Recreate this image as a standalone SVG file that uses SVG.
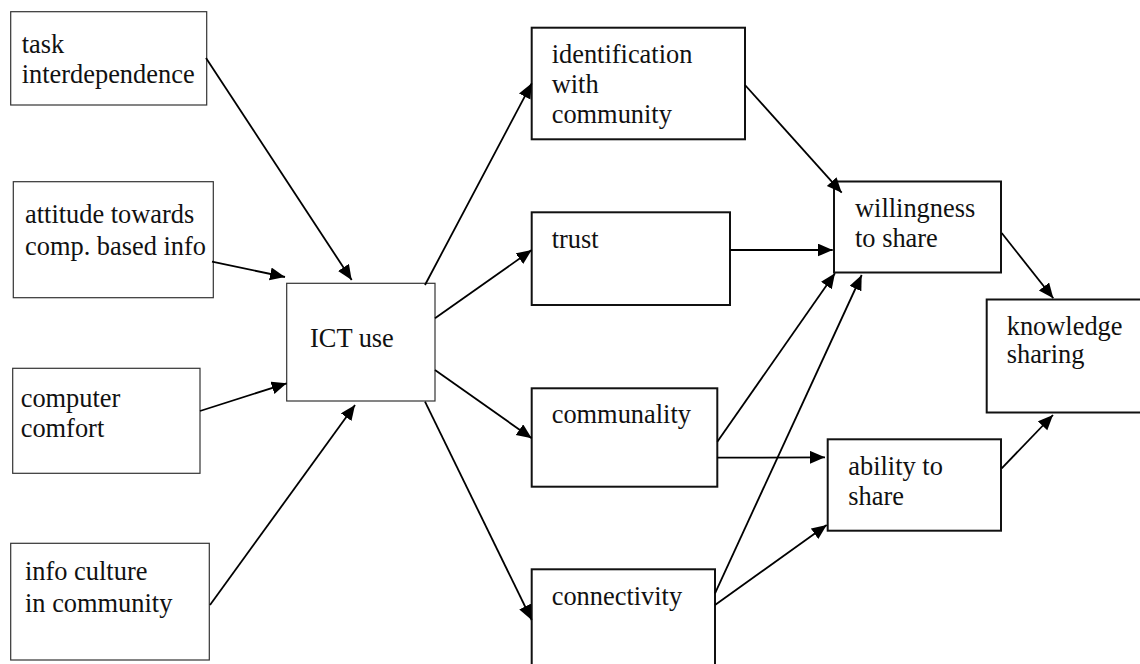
<svg xmlns="http://www.w3.org/2000/svg" width="1140" height="664" viewBox="0 0 1140 664">
<style>
text{font-family:"Liberation Serif","Times New Roman",serif;font-size:26.4px;fill:#111}
.thin{fill:#fff;stroke:#333;stroke-width:1.2}
.thick{fill:#fff;stroke:#111;stroke-width:2}
.c line{stroke:#000;stroke-width:1.8;marker-end:url(#ah)}
</style>
<defs>
<marker id="ah" markerUnits="userSpaceOnUse" markerWidth="16" markerHeight="14" refX="15" refY="6.5" orient="auto">
<path d="M0,0 L15,6.5 L0,13 z" fill="#000"/>
</marker>
</defs>
<rect width="1140" height="664" fill="#fff"/>
<g id="n-task"><rect class="thin" x="10.7" y="11.7" width="196" height="93.3"/><text x="21.7" y="53.3">task</text><text x="21.7" y="83.3">interdependence</text></g>
<g id="n-attitude"><rect class="thin" x="13.3" y="181.7" width="200" height="116"/><text x="25" y="223">attitude towards</text><text x="25" y="255">comp. based info</text></g>
<g id="n-computer"><rect class="thin" x="12.7" y="368.3" width="187.3" height="105"/><text x="20.7" y="406.7">computer</text><text x="20.7" y="436.7">comfort</text></g>
<g id="n-info"><rect class="thin" x="10.7" y="543.3" width="198.6" height="116.7"/><text x="25" y="580">info culture</text><text x="25" y="611.7">in community</text></g>
<g id="n-ict"><rect class="thin" x="286.7" y="283.3" width="148.3" height="117.7"/><text x="310" y="346.7">ICT use</text></g>
<g id="n-ident"><rect class="thick" x="531.7" y="27.7" width="213.3" height="111.6"/><text x="551.7" y="63.3">identification</text><text x="551.7" y="93.3">with</text><text x="551.7" y="123.3">community</text></g>
<g id="n-trust"><rect class="thick" x="531.7" y="212.3" width="198.3" height="92.7"/><text x="551.7" y="248.3">trust</text></g>
<g id="n-communality"><rect class="thick" x="531.7" y="388.3" width="185.6" height="98.4"/><text x="551.7" y="423.3">communality</text></g>
<g id="n-connectivity"><rect class="thick" x="531.7" y="569.3" width="183.3" height="100"/><text x="551.7" y="605">connectivity</text></g>
<g id="n-willingness"><rect class="thick" x="834" y="181.5" width="167" height="91"/><text x="855" y="216.7">willingness</text><text x="855" y="246.7">to share</text></g>
<g id="n-knowledge"><rect class="thick" x="986.7" y="299.5" width="160" height="113"/><text x="1006.7" y="335">knowledge</text><text x="1006.7" y="363.3">sharing</text></g>
<g id="n-ability"><rect class="thick" x="827.7" y="439.3" width="173.3" height="91.4"/><text x="848.3" y="475">ability to</text><text x="848.3" y="505">share</text></g>
<g id="connectors" class="c">
<line x1="206" y1="58" x2="351.7" y2="280"/>
<line x1="212" y1="261.7" x2="285" y2="277"/>
<line x1="200" y1="411" x2="286.7" y2="383.3"/>
<line x1="210" y1="605" x2="355" y2="405"/>
<line x1="425" y1="285" x2="531.7" y2="83.3"/>
<line x1="435" y1="318.3" x2="531.7" y2="250"/>
<line x1="435" y1="370" x2="531.7" y2="438.3"/>
<line x1="425" y1="401.7" x2="531.7" y2="620"/>
<line x1="745" y1="85" x2="841.7" y2="192.7"/>
<line x1="730" y1="250" x2="832.7" y2="250"/>
<line x1="717.3" y1="441.7" x2="835" y2="273.3"/>
<line x1="717.3" y1="457.7" x2="825" y2="457.3"/>
<line x1="715" y1="593.3" x2="861.7" y2="275"/>
<line x1="715" y1="605" x2="826.7" y2="525"/>
<line x1="1001.7" y1="233" x2="1053.3" y2="298.3"/>
<line x1="1001.7" y1="468.3" x2="1053" y2="415"/>
</g>
</svg>
